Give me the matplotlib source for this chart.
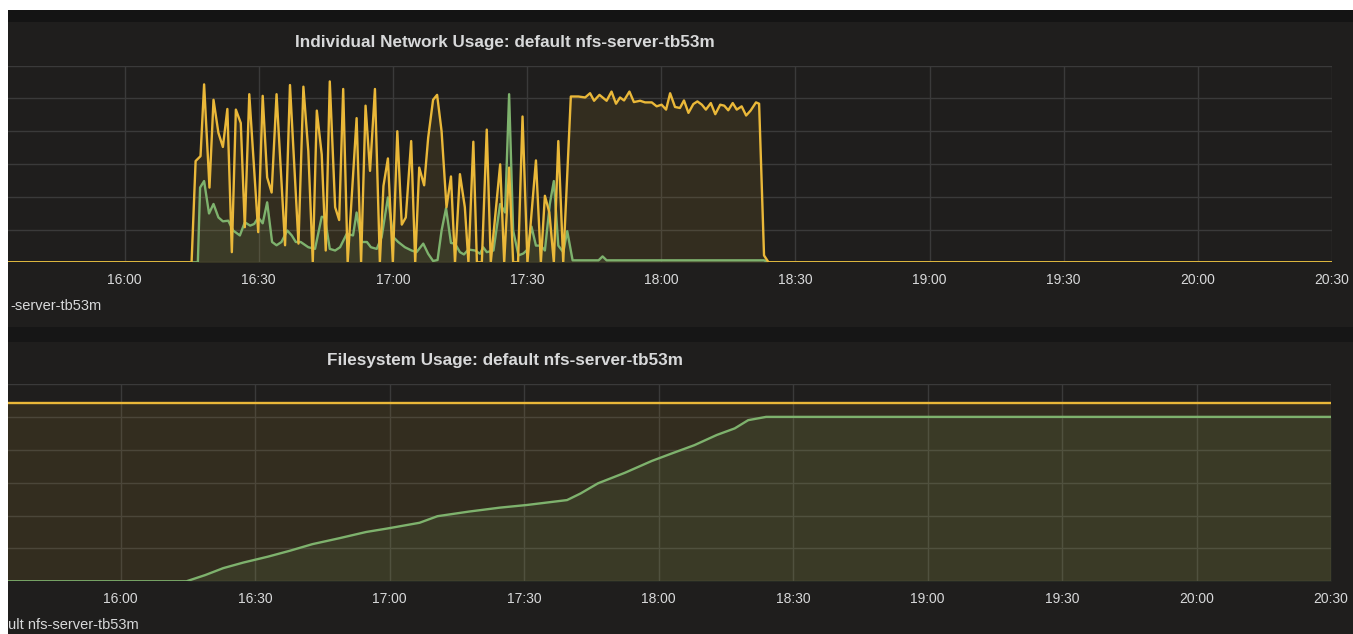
import matplotlib.pyplot as plt
from matplotlib.patches import Rectangle

plt.rcParams['font.family'] = ['Liberation Sans', 'DejaVu Sans']

# times are minutes after 16:00
tick_minutes = [0, 30, 60, 90, 120, 150, 180, 210, 240, 270]
tick_labels = ["16:00", "16:30", "17:00", "17:30", "18:00", "18:30", "19:00", "19:30", "20:00", "20:30"]

net_title = "Individual Network Usage: default nfs-server-tb53m"
fs_title = "Filesystem Usage: default nfs-server-tb53m"
# legends are cut off by the left edge of the screenshot
net_legend = "-server-tb53m"
fs_legend = "ult nfs-server-tb53m"

# network usage, yellow series
net_yellow_t = [-26, 15.0, 15.9, 17.0, 17.8, 19.0, 19.9, 21.0, 22.0, 23.0, 24.0, 24.9, 26.0, 26.9, 27.9,
                29.9, 30.9, 31.9, 32.9, 34.0, 35.9, 37.0, 38.9, 40.0, 41.1, 42.1, 43.0, 44.1, 45.0, 45.9,
                47.1, 48.0, 48.9, 49.9, 51.9, 52.9, 53.9, 54.9, 56.0, 57.1, 57.9, 58.9, 60.0, 61.0, 62.0,
                62.9, 64.1, 65.0, 65.9, 67.0, 67.9, 69.0, 69.9, 70.9, 72.0, 73.0, 73.9, 75.0, 76.1, 76.9,
                78.0, 78.8, 79.9, 81.0, 81.9, 84.0, 84.9, 86.0, 86.9, 88.0, 89.0, 90.1, 92.0, 93.1, 94.0,
                95.0, 96.0, 97.0, 98.1, 99.8, 101.5, 103.0, 104.1, 105.0, 106.2, 107.8, 108.9, 109.9, 110.8,
                111.7, 112.9, 113.9, 115.3, 116.4, 117.9, 119.0, 120.1, 121.1, 122.0, 123.1, 124.2, 125.1,
                126.1, 127.2, 128.1, 129.1, 130.0, 131.1, 132.1, 133.2, 134.1, 135.0, 136.0, 136.9, 138.0,
                139.0, 140.0, 141.2, 141.9, 143.0, 144.0, 270]
net_yellow = [0, 0, 3.09, 3.24, 5.43, 2.28, 4.96, 3.95, 3.52, 4.68, 0.31, 4.66, 4.25, 1.07, 5.13,
              0.92, 5.08, 2.59, 2.13, 5.13, 0.52, 5.41, 0.57, 5.36, 3.39, 0, 4.63, 3.29, 0.36, 5.52,
              1.68, 1.29, 5.29, 0, 4.40, 0, 4.78, 2.79, 5.29, 0, 2.33, 3.17, 0, 4.0, 1.15,
              1.37, 3.70, 0, 2.89, 2.35, 3.80, 4.96, 5.11, 4.0, 1.68, 2.62, 0, 2.69, 1.68, 0,
              3.68, 0, 0, 4.05, 0, 2.99, 0, 2.89, 0, 0, 4.45, 0, 3.11, 0, 2.03,
              1.52, 0, 3.70, 0, 5.06, 5.06, 5.03, 5.16, 4.93, 5.11, 4.93, 5.21, 4.84, 5.03,
              4.94, 5.21, 4.89, 4.93, 4.88, 4.88, 4.76, 4.81, 4.66, 5.16, 4.74, 4.71, 4.94,
              4.56, 4.83, 4.91, 4.81, 4.66, 4.86, 4.52, 4.81, 4.78, 4.64, 4.86, 4.66, 4.76,
              4.48, 4.63, 4.88, 4.84, 0.21, 0, 0]

# network usage, green series
net_green_t = [-26, 16.4, 16.9, 17.8, 18.9, 19.9, 21.0, 22.0, 23.2, 24.3, 25.8, 26.9, 28.1, 29.0, 29.9,
               30.9, 31.9, 33.0, 34.0, 35.1, 36.4, 37.4, 38.3, 39.4, 41.1, 42.6, 44.1, 44.8, 45.9, 47.1,
               48.2, 49.7, 51.1, 51.9, 53.0, 54.2, 55.1, 56.4, 57.5, 58.9, 60.1, 61.2, 62.7, 64.2, 65.3,
               66.8, 67.9, 69.0, 70.0, 70.9, 71.9, 73.0, 73.9, 75.0, 75.9, 76.9, 78.4, 79.5, 80.2, 81.0,
               82.5, 84.0, 85.1, 86.0, 86.9, 88.1, 89.2, 90.1, 91.0, 92.0, 93.1, 94.0, 95.1, 96.0, 97.0,
               98.1, 99.0, 100.2, 106.0, 106.9, 107.8, 143.0, 144.0, 270]
net_green = [0, 0, 2.28, 2.48, 1.49, 1.78, 1.37, 1.25, 1.27, 0.97, 0.82, 1.22, 1.12, 1.17, 1.37,
             1.19, 1.83, 0.62, 0.52, 0.62, 0.97, 0.82, 0.62, 0.62, 0.46, 0.41, 1.39, 1.37, 0.41, 0.36,
             0.46, 0.87, 0.82, 1.52, 0.62, 0.62, 0.46, 0.41, 0.77, 1.98, 0.77, 0.62, 0.46, 0.36, 0.31,
             0.57, 0.26, 0.04, 0.07, 0.97, 1.65, 0.59, 0.57, 0.31, 0.24, 0.39, 0.36, 0.26, 0.46, 0.31,
             0.36, 1.78, 1.52, 5.13, 0.97, 0.21, 0.27, 0.39, 1.09, 0.51, 0.51, 0.36, 1.78, 2.48, 0.51,
             0.31, 0.95, 0.06, 0.06, 0.18, 0.06, 0.06, 0, 0]

# filesystem usage
fs_green_t = [-25, 14.7, 18.9, 22.9, 27.4, 32.9, 37.8, 42.8, 48.8, 54.8, 59.7, 66.7, 70.7, 77.7, 84.6,
              90.6, 99.6, 102.6, 106.5, 112.5, 118.5, 123.0, 128.0, 133.0, 137.0, 140.0, 144.0, 270]
fs_green = [0, 0, 0.19, 0.40, 0.57, 0.75, 0.93, 1.13, 1.31, 1.50, 1.61, 1.78, 1.98, 2.12, 2.24,
            2.32, 2.47, 2.67, 2.98, 3.30, 3.66, 3.89, 4.14, 4.45, 4.65, 4.90, 5.0, 5.0]
fs_yellow_t = [-25, 270]
fs_yellow = [5.41, 5.41]

YELLOW = "#eab839"
GREEN = "#7eb26d"
PANEL = "#1f1e1d"
TEXT = "#d8d9da"
GRID = "#3a3a3a"

W, H = 1353, 634
fig = plt.figure(figsize=(W / 100, H / 100), dpi=100, facecolor="white")


def fy(y):
    return 1 - y / H


def band(x0, y0, x1, y1, color, z):
    fig.add_artist(Rectangle((x0 / W, fy(y1)), (x1 - x0) / W, (y1 - y0) / H,
                             transform=fig.transFigure, color=color, zorder=z, lw=0))


band(8, 10, W, H, PANEL, -3)
band(8, 10, W, 22, "#141414", -2)
band(8, 327, W, 342, "#161616", -2)


def panel(rect, xlim, series, title, title_y, legend, legend_xy):
    ax = fig.add_axes(rect)
    ax.set_facecolor("none")
    for t, v, c in series:
        ax.fill_between(t, v, 0, color=c, alpha=0.1, lw=0)
    for t, v, c in series:
        ax.plot(t, v, color=c, lw=1.7)
    ax.set_xlim(*xlim)
    ax.set_ylim(0, 6)
    ax.set_xticks(tick_minutes)
    ax.set_xticklabels(tick_labels)
    ax.set_yticks(range(7))
    ax.set_yticklabels([])
    ax.grid(True, color=GRID, lw=1)
    ax.set_axisbelow(True)
    for s in ax.spines.values():
        s.set_visible(False)
    ax.tick_params(length=0, pad=8, labelsize=10, colors=TEXT)
    fig.text(505 / W, fy(title_y), title, ha="center", va="center",
             fontsize=12.3, fontweight="bold", color=TEXT)
    fig.text(legend_xy[0] / W, fy(legend_xy[1]), legend, ha="left", va="center",
             fontsize=10.5, color=TEXT)
    return ax


panel([8 / W, fy(262.3), (1332 - 8) / W, (262.3 - 65.7) / H], (-26.05, 270.0),
      [(net_green_t, net_green, GREEN), (net_yellow_t, net_yellow, YELLOW)],
      net_title, 43, net_legend, (10, 306))
panel([8 / W, fy(581.3), (1331 - 8) / W, (581.3 - 384) / H], (-25.1, 269.9),
      [(fs_yellow_t, fs_yellow, YELLOW), (fs_green_t, fs_green, GREEN)],
      fs_title, 361, fs_legend, (8, 625))

# white page margin at the top
band(0, 0, W, 10, "white", 10)

fig.savefig("out.png", dpi=100, facecolor="white")
